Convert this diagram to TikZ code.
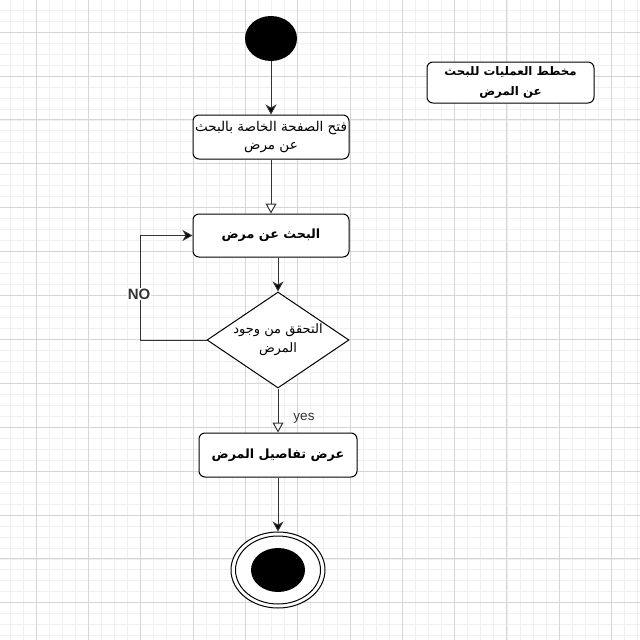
\documentclass[tikz,border=0pt]{standalone}
\usepackage{fontspec}
\setmainfont{Liberation Sans}
\newfontfamily\arabicfont[Script=Arabic]{DejaVu Sans}
\TeXXeTstate=1
\usetikzlibrary{shapes.geometric,arrows.meta}
\definecolor{gridmajor}{HTML}{D6D6D6}
\definecolor{gridminor}{HTML}{F0F0F0}
\definecolor{edgegray}{HTML}{333333}
\tikzstyle{action}=[rounded corners=6pt, draw, line width=1pt, fill=white, align=center, inner sep=0, font=\arabicfont\fontsize{13.5}{18}\selectfont]
\tikzstyle{actionbf}=[action, font=\arabicfont\bfseries\fontsize{12.7}{20}\selectfont]
\tikzstyle{decision}=[diamond, draw, line width=1pt, fill=white, align=center, inner sep=0, aspect=1.48, minimum width=142pt, minimum height=96pt, font=\arabicfont\fontsize{13}{19}\selectfont]
\tikzstyle{startdot}=[ellipse, fill=black, minimum width=52pt, minimum height=45pt, inner sep=0]
\tikzstyle{enddot}=[ellipse, draw, line width=1pt, fill=white, minimum width=94pt, minimum height=76pt, inner sep=0]
\tikzstyle{flow}=[draw=edgegray, line width=1pt, -{Stealth[length=10pt, width=11pt, inset=3pt, fill=black]}]
\tikzstyle{flowopen}=[draw=edgegray, line width=1pt, -{Triangle[open, length=10pt, width=11pt, fill=white]}]
\tikzstyle{lbl}=[fill=white, inner sep=1pt, text=edgegray]

\begin{document}
\begin{tikzpicture}[x=1pt, y=-1pt]

\useasboundingbox (0, 0) rectangle (640, 640);
\fill [white] (0, 0) rectangle (640, 640);

% background grid
\begin{scope}
\clip (0, 0) rectangle (640, 640);
\foreach \i in {0,...,48} \draw [gridminor, line width=0.6pt] ({9.8+13.08*\i}, 0) -- ({9.8+13.08*\i}, 640);
\foreach \j in {0,...,58} \draw [gridminor, line width=0.6pt] (0, {10.05+10.975*\j}) -- (640, {10.05+10.975*\j});
\foreach \i in {0,...,11} \draw [gridmajor, line width=0.8pt] ({36+52.32*\i}, 0) -- ({36+52.32*\i}, 640);
\foreach \j in {0,...,13} \draw [gridmajor, line width=0.8pt] (0, {32+43.9*\j}) -- (640, {32+43.9*\j});
\end{scope}

\node [startdot] (start) at (271, 38.5) {};
\node [action, minimum width=156pt, minimum height=44pt] (B1) at (271, 137) {\beginR فتح الصفحة الخاصة بالبحث\endR\\\beginR عن مرض\endR};
\node [actionbf, minimum width=156pt, minimum height=43pt] (B2) at (271, 235.5) {\beginR البحث عن مرض\endR};
\node [decision] (D1) at (278, 340) {\beginR التحقق من وجود\endR\\\beginR المرض\endR};
\node [actionbf, minimum width=158pt, minimum height=44pt] (B3) at (278, 455) {\beginR عرض تفاصيل المرض\endR};
\node [enddot] (stop) at (278, 570) {};
\draw [line width=1pt] (stop) ellipse [x radius=42.5pt, y radius=34pt];
\fill (stop) ellipse [x radius=27pt, y radius=22pt];

\node [actionbf, minimum width=167pt, minimum height=41pt, font=\arabicfont\bfseries\fontsize{11.8}{20}\selectfont] (title) at (510.5, 82.5) {\beginR مخطط العمليات للبحث\endR\\\beginR عن المرض\endR};

\draw [flow] (start) -- (B1);
\draw [flowopen] (B1) -- (B2);
\draw [flow] (B2.south -| D1.north) -- (D1.north);
\draw [flowopen] (D1.south) -- (B3.north);
\draw [flow] (B3) -- (stop);
\draw [flow] (D1.west) -- ++(-66, 0) |- (B2.west);

\node [lbl, font=\bfseries\fontsize{15}{17}\selectfont] (no) at (139, 294) {NO};
\node [text=edgegray, font=\fontsize{13.5}{15}\selectfont] (yes) at (304, 418) {yes};

\end{tikzpicture}
\end{document}
